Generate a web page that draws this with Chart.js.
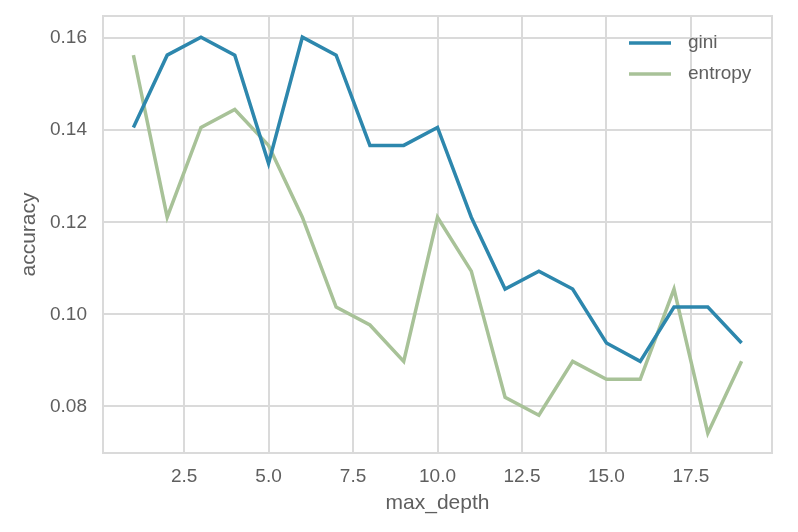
<!DOCTYPE html>
<html>
<head>
<meta charset="utf-8">
<script src="https://cdn.jsdelivr.net/npm/chart.js@4/dist/chart.umd.min.js"></script>
<style>
html,body{margin:0;padding:0;background:#fff;}
#wrap{width:798px;height:532px;position:relative;}
</style>
</head>
<body>
<div id="wrap"><canvas id="c" width="798" height="532"></canvas></div>
<script>
const maxDepth = [1,2,3,4,5,6,7,8,9,10,11,12,13,14,15,16,17,18,19];
const giniAcc = [0.1406,0.1563,0.1602,0.1563,0.1328,0.1602,0.1563,0.1367,0.1367,0.1406,0.1211,0.1055,0.1094,0.1055,0.0938,0.0898,0.1016,0.1016,0.0938];
const entropyAcc = [0.1563,0.1211,0.1406,0.1445,0.1367,0.1211,0.1016,0.0977,0.0898,0.1211,0.1094,0.0820,0.0781,0.0898,0.0859,0.0859,0.1055,0.0742,0.0898];
const xTicks = [2.5,5.0,7.5,10.0,12.5,15.0,17.5];
const yTicks = [0.08,0.10,0.12,0.14,0.16];

const gridColor = '#dadada';
const textColor = '#5f5f5f';
const fontFam = '"Liberation Sans", Arial, sans-serif';

const framePlugin = {
  id: 'frame',
  afterDraw(chart) {
    const {ctx, chartArea: a} = chart;
    ctx.save();
    ctx.strokeStyle = gridColor;
    ctx.lineWidth = 2;
    ctx.strokeRect(a.left, a.top, a.right - a.left, a.bottom - a.top);
    ctx.restore();
  }
};

new Chart(document.getElementById('c'), {
  type: 'line',
  data: {
    datasets: [
      { label: 'gini', data: maxDepth.map((x,i)=>({x, y: giniAcc[i]})), borderColor: '#2d87ad', backgroundColor: '#2d87ad', borderWidth: 3.5, pointRadius: 0, tension: 0 },
      { label: 'entropy', data: maxDepth.map((x,i)=>({x, y: entropyAcc[i]})), borderColor: '#a8c298', backgroundColor: '#a8c298', borderWidth: 3.5, pointRadius: 0, tension: 0 }
    ]
  },
  options: {
    responsive: false,
    animation: false,
    layout: { padding: { left: 0, top: 16, right: 26, bottom: 10 } },
    plugins: {
      legend: { display: false },
      tooltip: { enabled: false }
    },
    scales: {
      x: {
        type: 'linear',
        min: 0.1, max: 19.9,
        afterBuildTicks(s) { s.ticks = xTicks.map(v => ({value: v})); },
        afterFit(s) { s.height = 532 - 453 - 10; s.paddingLeft = 0; s.paddingRight = 0; },
        grid: { color: gridColor, lineWidth: 2, drawTicks: false },
        border: { display: false },
        ticks: { color: textColor, font: { family: fontFam, size: 19 }, padding: 12, maxRotation: 0,
          callback: v => v.toFixed(1) },
        title: { display: true, text: 'max_depth', color: textColor, font: { family: fontFam, size: 21 }, padding: { top: 0, bottom: 6 } }
      },
      y: {
        min: 0.0699, max: 0.1648,
        afterBuildTicks(s) { s.ticks = yTicks.map(v => ({value: v})); },
        afterFit(s) { s.width = 103; s.paddingTop = 0; s.paddingBottom = 0; },
        grid: { color: gridColor, lineWidth: 2, drawTicks: false },
        border: { display: false },
        ticks: { color: textColor, font: { family: fontFam, size: 19 }, padding: 16,
          callback: v => v.toFixed(2) },
        title: { display: true, text: 'accuracy', color: textColor, font: { family: fontFam, size: 21 }, padding: { top: 17, bottom: 0 } }
      }
    }
  },
  plugins: [framePlugin, {
    id: 'legendBox',
    afterDraw(chart) {
      const ctx = chart.ctx;
      const items = chart.data.datasets;
      ctx.save();
      ctx.font = '19px ' + fontFam;
      ctx.textBaseline = 'middle';
      ctx.textAlign = 'left';
      const ys = [43, 74];
      items.forEach((d, i) => {
        ctx.strokeStyle = d.borderColor;
        ctx.lineWidth = 3.5;
        ctx.beginPath();
        ctx.moveTo(629, ys[i]);
        ctx.lineTo(671, ys[i]);
        ctx.stroke();
        ctx.fillStyle = textColor;
        ctx.fillText(d.label, 688, ys[i]);
      });
      ctx.restore();
    }
  }]
});
</script>
</body>
</html>
